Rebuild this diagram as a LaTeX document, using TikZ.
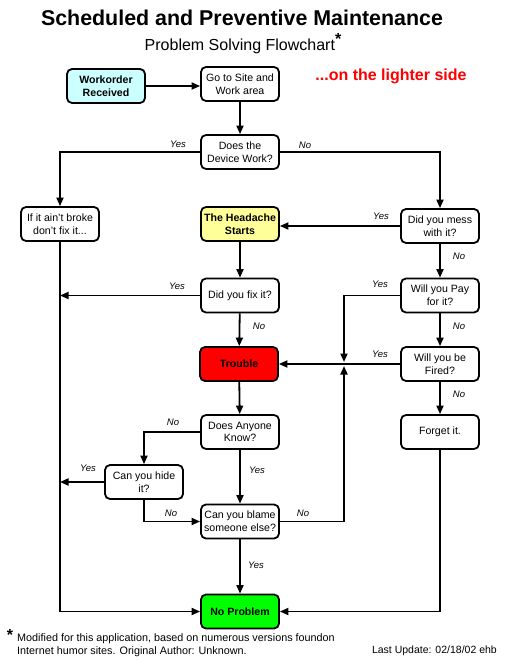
\documentclass[tikz,border=0pt]{standalone}
\usepackage{fontspec}
\setmainfont{Liberation Sans}
\usetikzlibrary{arrows.meta}
\definecolor{cyanlt}{HTML}{CCFFFF}
\definecolor{yel}{HTML}{FFFF99}
\definecolor{grn}{HTML}{00FF00}
\definecolor{rd}{HTML}{FF0000}
\begin{document}
\begin{tikzpicture}[x=1pt,y=-1pt,
 box/.style={draw,line width=1.8pt,rounded corners=5pt,minimum width=78pt,minimum height=34pt,inner sep=0pt,align=center,font=\fontsize{10.6}{12.7}\selectfont},
 boldbox/.style={box,font=\fontsize{10.6}{12.7}\selectfont\bfseries},
 conn/.style={line width=1.8pt,-{Triangle[length=8.5pt,width=7pt]}},
 lbl/.style={font=\fontsize{9.5}{11}\selectfont\itshape,inner sep=0pt}
]
\useasboundingbox (0,0) rectangle (513,668);

% titles
\node[font=\fontsize{21.4}{24}\selectfont\bfseries] (title) at (242,18) {Scheduled and Preventive Maintenance};
\node[font=\fontsize{16}{18}\selectfont] (sub) at (243,44) {Problem Solving Flowchart\raisebox{6pt}{\fontsize{16}{16}\selectfont\bfseries *}};
\node[font=\fontsize{16}{18}\selectfont\bfseries,text=rd] (side) at (391,76) {...on the lighter side};

% boxes
\node[boldbox,fill=cyanlt] (work) at (106,86) {Workorder\\Received};
\node[box] (site) at (240,84) {Go to Site and\\Work area};
\node[box] (dev) at (240,152) {Does the\\Device Work?};
\node[box] (broke) at (60,224) {If it ain't broke\\don't fix it...};
\node[boldbox,fill=yel] (head) at (240,224) {The Headache\\Starts};
\node[box] (mess) at (440,226) {Did you mess\\with it?};
\node[box] (fix) at (240,295.5) {Did you fix it?};
\node[box] (pay) at (440,295.5) {Will you Pay\\for it?};
\node[boldbox,fill=rd] (trouble) at (239,364) {Trouble};
\node[box] (fired) at (440,364) {Will you be\\Fired?};
\node[box] (anyone) at (240,432) {Does Anyone\\Know?};
\node[box] (forget) at (440,432) {Forget it.};
\node[box] (hide) at (144,482) {Can you hide\\it?};
\node[box] (blame) at (240,521.5) {Can you blame\\someone else?};
\node[boldbox,fill=grn] (nop) at (240,611.5) {No Problem};

% free ends
\coordinate (fixL) at (60,295.5);
\coordinate (hideL) at (60,482);
\coordinate (payT) at (344,362);
\coordinate (blameT) at (344,366);

% connectors
\draw[conn] (work.east) -- (work.east -| site.west);
\draw[conn] (site) -- (dev);
\draw[conn] (dev.west) -| (broke.north);
\draw[conn] (dev.east) -| (mess.north);
\draw[conn] (mess.west) -- (mess.west -| head.east);
\draw[conn] (mess) -- (pay);
\draw[conn] (head) -- (fix);
\draw[conn] (broke.south) |- (nop.west);
\draw[conn] (fix.west) -- (fixL);
\draw[conn] (fix) -- (trouble);
\draw[conn] (pay.west) -| (payT);
\draw[conn] (pay) -- (fired);
\draw[conn] (fired) -- (trouble);
\draw[conn] (fired) -- (forget);
\draw[conn] (forget.south) |- (nop.east);
\draw[conn] (trouble) -- (anyone);
\draw[conn] (anyone.west) -| (hide.north);
\draw[conn] (anyone) -- (blame);
\draw[conn] (hide.west) -- (hideL);
\draw[conn] (hide.south) |- (blame.west);
\draw[conn] (blame.east) -| (blameT);
\draw[conn] (blame) -- (nop);

% labels
\node[lbl] (l1) at (178,144) {Yes};
\node[lbl] (l2) at (305,145) {No};
\node[lbl] (l3) at (381,216) {Yes};
\node[lbl] (l4) at (459,256) {No};
\node[lbl] (l5) at (177,286) {Yes};
\node[lbl] (l6) at (259,326) {No};
\node[lbl] (l7) at (380,284) {Yes};
\node[lbl] (l8) at (459,326) {No};
\node[lbl] (l9) at (380,354) {Yes};
\node[lbl] (l10) at (459,394) {No};
\node[lbl] (l11) at (173,422) {No};
\node[lbl] (l12) at (257,470) {Yes};
\node[lbl] (l13) at (88,468) {Yes};
\node[lbl] (l14) at (171,513) {No};
\node[lbl] (l15) at (303,513) {No};
\node[lbl] (l16) at (256,565) {Yes};

% footnote
\node[font=\fontsize{16}{16}\selectfont\bfseries,inner sep=0pt] (ast) at (10,635) {*};
\node[anchor=north west,align=left,inner sep=0pt,font=\fontsize{10.8}{13}\selectfont] (foot) at (17,633) {Modified for this application, based on numerous versions foundon\\Internet humor sites. Original Author: Unknown.};
\node[anchor=east,inner sep=0pt,font=\fontsize{10.5}{12}\selectfont] (upd) at (497,651) {Last Update: 02/18/02 ehb};
\end{tikzpicture}
\end{document}
